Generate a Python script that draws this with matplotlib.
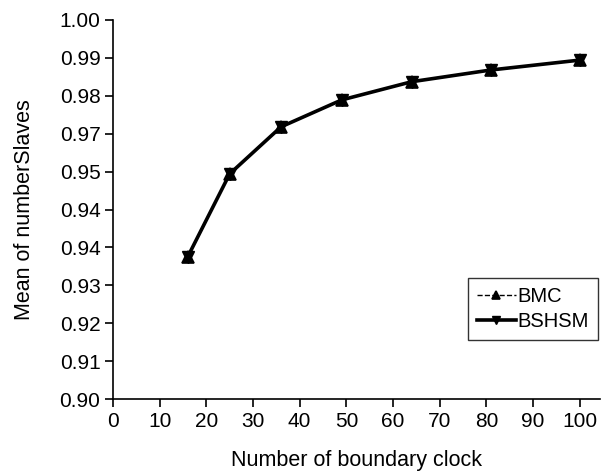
import matplotlib.pyplot as plt

# Data
boundary_clocks = [16, 25, 36, 49, 64, 81, 100]
bmc_mean = [0.9375, 0.9594, 0.9718, 0.9789, 0.9837, 0.9868, 0.9894]
bshsm_mean = [0.9375, 0.9594, 0.9718, 0.9789, 0.9837, 0.9868, 0.9894]

x_ticks = [0, 10, 20, 30, 40, 50, 60, 70, 80, 90, 100]
y_ticks = [0.90, 0.91, 0.92, 0.93, 0.94, 0.95, 0.96, 0.97, 0.98, 0.99, 1.00]
y_tick_labels = ['0.90', '0.91', '0.92', '0.93', '0.94', '0.94', '0.95',
                 '0.97', '0.98', '0.99', '1.00']

plt.rcParams['font.family'] = ['Liberation Sans', 'DejaVu Sans']

fig = plt.figure(figsize=(6.01, 4.74), dpi=100)
ax = fig.add_axes([0.188, 0.158, 0.81, 0.8])

ax.plot(boundary_clocks, bmc_mean, linestyle='--', color='black', linewidth=1.0,
        marker='^', markersize=8, markerfacecolor='black', markeredgecolor='black',
        markeredgewidth=1.2, label='BMC')
ax.plot(boundary_clocks, bshsm_mean, linestyle='-', color='black', linewidth=2.6,
        marker='v', markersize=8, markerfacecolor='black', markeredgecolor='black',
        label='BSHSM')

ax.set_xlim(0, 104.3)
ax.set_ylim(0.90, 1.00)
ax.set_xticks(x_ticks)
ax.set_yticks(y_ticks)
ax.set_yticklabels(y_tick_labels)

for side in ['top', 'right']:
    ax.spines[side].set_visible(False)
for side in ['left', 'bottom']:
    ax.spines[side].set_linewidth(1.2)
ax.tick_params(axis='both', direction='out', length=6, width=1.2, labelsize=15,
               pad=3)

ax.set_xlabel('Number of boundary clock', fontsize=15.5, labelpad=14)
ax.set_ylabel('Mean of numberSlaves', fontsize=15.5, labelpad=18)

# legend sits in the lower right, box anchored in figure coords
leg = ax.legend(loc='upper right', bbox_to_anchor=(0.995, 0.4135),
                bbox_transform=fig.transFigure, fontsize=14.5, markerscale=0.65,
                frameon=True, fancybox=False, handlelength=1.9, handletextpad=0.1,
                borderpad=0.45, labelspacing=0.3, borderaxespad=0)
leg.get_frame().set_edgecolor('black')
leg.get_frame().set_linewidth(1.0)

fig.savefig('out.png', dpi=100)
